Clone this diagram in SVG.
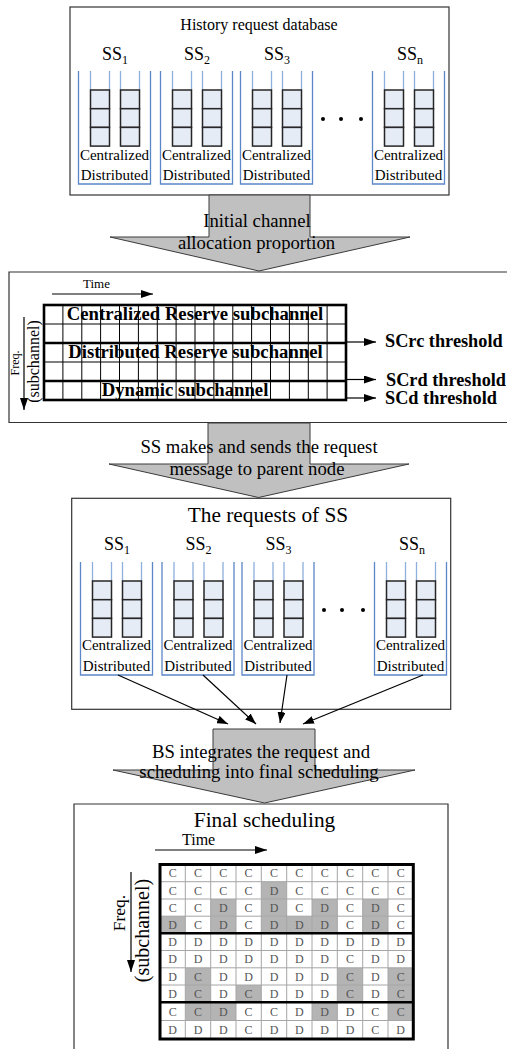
<svg xmlns="http://www.w3.org/2000/svg" xmlns:xlink="http://www.w3.org/1999/xlink" width="507" height="1049" viewBox="0 0 507 1049">
  <style>
    text { font-family: "Liberation Serif", "Times New Roman", serif; fill: #000; }
    .box { fill: #fff; stroke: #333; stroke-width: 1.2; }
    .cont { fill: none; stroke: #5b87c8; stroke-width: 1.3; }
    .tube { fill: none; stroke: #8eaedd; stroke-width: 1.3; }
    .slot { fill: #e6ecf6; stroke: #262626; stroke-width: 1.5; }
    .lbl { font-size: 15px; }
    .ss { font-size: 18px; }
    .sub { font-size: 12px; }
    .blk { fill: #c0c0c0; stroke: #3a3a3a; stroke-width: 1; }
    .big { font-size: 18.7px; }
    .title { font-size: 21.3px; }
    .bold { font-weight: bold; font-size: 18.7px; }
    .thr { font-weight: bold; font-size: 18.3px; }
    .thin { fill: none; stroke: #000; stroke-width: 1; }
    .thick { fill: none; stroke: #000; stroke-width: 2.6; }
    .gthin { fill: none; stroke: #a6a6a6; stroke-width: 1; }
    .gcell { fill: #b4b4b4; }
    .cell { font-size: 12px; fill: #555; }
    .arr { fill: none; stroke: #000; stroke-width: 1.2; }
  </style>
  <defs>
    <marker id="head" viewBox="0 0 12 8" refX="12" refY="4" markerWidth="12" markerHeight="8" markerUnits="userSpaceOnUse" orient="auto">
      <path d="M0,0 L12,4 L0,8 z" fill="#000"/>
    </marker>
    <marker id="headS" viewBox="0 0 11 8" refX="11" refY="4" markerWidth="11" markerHeight="8" markerUnits="userSpaceOnUse" orient="auto">
      <path d="M0,0 L11,4 L0,8 z" fill="#000"/>
    </marker>
    <!-- one subscriber queue: open container with two tubes of three slots -->
    <g id="queue">
      <path class="cont" d="M0.5,0 V113 H72.5 V0"/>
      <path class="tube" d="M12.5,0 V19 M31.5,0 V19 M42.5,0 V19 M61.5,0 V19"/>
      <rect class="slot" x="12.5" y="19" width="19" height="18.7"/>
      <rect class="slot" x="12.5" y="37.7" width="19" height="18.7"/>
      <rect class="slot" x="12.5" y="56.4" width="19" height="18.7"/>
      <rect class="slot" x="42.5" y="19" width="19" height="18.7"/>
      <rect class="slot" x="42.5" y="37.7" width="19" height="18.7"/>
      <rect class="slot" x="42.5" y="56.4" width="19" height="18.7"/>
    </g>
  </defs>

  <!-- History request database -->
  <g id="history-db">
    <rect class="box" x="70" y="7" width="379" height="188"/>
    <text x="259" y="30" font-size="16" text-anchor="middle">History request database</text>
    <g id="hist-ss1">
      <text class="ss" x="115" y="60" text-anchor="middle">SS<tspan class="sub" dy="4">1</tspan></text>
      <use xlink:href="#queue" x="78" y="71"/>
      <text class="lbl" x="114.5" y="160" text-anchor="middle">Centralized</text>
      <text class="lbl" x="114.5" y="180" text-anchor="middle">Distributed</text>
    </g>
    <g id="hist-ss2">
      <text class="ss" x="197" y="60" text-anchor="middle">SS<tspan class="sub" dy="4">2</tspan></text>
      <use xlink:href="#queue" x="160" y="71"/>
      <text class="lbl" x="196.5" y="160" text-anchor="middle">Centralized</text>
      <text class="lbl" x="196.5" y="180" text-anchor="middle">Distributed</text>
    </g>
    <g id="hist-ss3">
      <text class="ss" x="277" y="60" text-anchor="middle">SS<tspan class="sub" dy="4">3</tspan></text>
      <use xlink:href="#queue" x="240" y="71"/>
      <text class="lbl" x="276.5" y="160" text-anchor="middle">Centralized</text>
      <text class="lbl" x="276.5" y="180" text-anchor="middle">Distributed</text>
    </g>
    <g id="hist-dots">
      <circle cx="323" cy="119" r="2"/>
      <circle cx="341" cy="119" r="2"/>
      <circle cx="361" cy="119" r="2"/>
    </g>
    <g id="hist-ssn">
      <text class="ss" x="410" y="60" text-anchor="middle">SS<tspan class="sub" dy="4">n</tspan></text>
      <use xlink:href="#queue" x="372" y="71"/>
      <text class="lbl" x="408.5" y="160" text-anchor="middle">Centralized</text>
      <text class="lbl" x="408.5" y="180" text-anchor="middle">Distributed</text>
    </g>
  </g>

  <!-- Step arrow: initial allocation -->
  <g id="arrow-initial">
    <polygon class="blk" points="209,195 310,195 310,237 410,237 259,271 110,237 209,237"/>
    <text class="big" x="257" y="227" text-anchor="middle">Initial channel</text>
    <text class="big" x="256.5" y="249" text-anchor="middle">allocation proportion</text>
  </g>

  <!-- Channel plan with reserve thresholds -->
  <g id="channel-plan">
    <path class="box" d="M509,272 H9 V422.5 H509"/>
    <text x="83" y="288" font-size="13">Time</text>
    <line class="arr" x1="52" y1="294" x2="153" y2="294" marker-end="url(#head)"/>
    <line class="arr" x1="24" y1="317" x2="24" y2="410" marker-end="url(#head)"/>
    <text font-size="12" text-anchor="middle" transform="translate(19,363) rotate(-90)">Freq.</text>
    <text font-size="16" text-anchor="middle" transform="translate(39,361.5) rotate(-90)">(subchannel)</text>
    <path class="thin" d="M62.9,305 V400 M81.8,305 V400 M100.6,305 V400 M119.5,305 V400 M138.4,305 V400 M157.3,305 V400 M176.1,305 V400 M195,305 V400 M213.9,305 V400 M232.8,305 V400 M251.6,305 V400 M270.5,305 V400 M289.4,305 V400 M308.3,305 V400 M327.1,305 V400 M44,324 H346 M44,362 H346"/>
    <path class="thick" d="M44,343 H346 M44,381 H346"/>
    <rect class="thick" x="44" y="305" width="302" height="95"/>
    <text class="bold" x="195" y="319.5" text-anchor="middle">Centralized Reserve subchannel</text>
    <text class="bold" x="195.5" y="357.5" text-anchor="middle">Distributed Reserve subchannel</text>
    <text class="bold" x="185" y="395.5" text-anchor="middle">Dynamic subchannel</text>
    <line class="arr" x1="347" y1="342" x2="376" y2="342" marker-end="url(#head)"/>
    <line class="arr" x1="347" y1="379.5" x2="376" y2="379.5" marker-end="url(#head)"/>
    <line class="arr" x1="347" y1="398" x2="376" y2="398" marker-end="url(#head)"/>
    <text class="thr" x="385" y="347">SCrc threshold</text>
    <text class="thr" x="386" y="385.5">SCrd threshold</text>
    <text class="thr" x="385" y="403.5">SCd threshold</text>
  </g>

  <!-- Step arrow: request message -->
  <g id="arrow-request">
    <polygon class="blk" points="208,423 310,423 310,464 409,464 258.5,497.5 109,464 208,464"/>
    <text class="big" x="259" y="453" text-anchor="middle">SS makes and sends the request</text>
    <text class="big" x="257" y="475" text-anchor="middle">message to parent node</text>
  </g>

  <!-- The requests of SS -->
  <g id="requests">
    <rect class="box" x="71.7" y="498.3" width="379" height="211"/>
    <text class="title" x="268" y="522" text-anchor="middle">The requests of SS</text>
    <g id="req-ss1">
      <text class="ss" x="117" y="550" text-anchor="middle">SS<tspan class="sub" dy="4">1</tspan></text>
      <use xlink:href="#queue" x="80" y="562"/>
      <text class="lbl" x="116.5" y="650" text-anchor="middle">Centralized</text>
      <text class="lbl" x="116.5" y="671" text-anchor="middle">Distributed</text>
    </g>
    <g id="req-ss2">
      <text class="ss" x="198.5" y="550" text-anchor="middle">SS<tspan class="sub" dy="4">2</tspan></text>
      <use xlink:href="#queue" x="161.5" y="562"/>
      <text class="lbl" x="198" y="650" text-anchor="middle">Centralized</text>
      <text class="lbl" x="198" y="671" text-anchor="middle">Distributed</text>
    </g>
    <g id="req-ss3">
      <text class="ss" x="278.5" y="550" text-anchor="middle">SS<tspan class="sub" dy="4">3</tspan></text>
      <use xlink:href="#queue" x="241.5" y="562"/>
      <text class="lbl" x="278" y="650" text-anchor="middle">Centralized</text>
      <text class="lbl" x="278" y="671" text-anchor="middle">Distributed</text>
    </g>
    <g id="req-dots">
      <circle cx="324" cy="610" r="2"/>
      <circle cx="342" cy="610" r="2"/>
      <circle cx="363" cy="610" r="2"/>
    </g>
    <g id="req-ssn">
      <text class="ss" x="412" y="550" text-anchor="middle">SS<tspan class="sub" dy="4">n</tspan></text>
      <use xlink:href="#queue" x="374" y="562"/>
      <text class="lbl" x="410.5" y="650" text-anchor="middle">Centralized</text>
      <text class="lbl" x="410.5" y="671" text-anchor="middle">Distributed</text>
    </g>
  </g>

  <!-- Step arrow: BS integration -->
  <g id="arrow-bs">
    <polygon class="blk" points="213,729 315,729 315,770 415,770 264.5,803 113,770 213,770"/>
    <text class="big" x="261" y="758" text-anchor="middle">BS integrates the request and</text>
    <text class="big" x="259" y="778" text-anchor="middle">scheduling into final scheduling</text>
  </g>

  <!-- Requests forwarded to the BS -->
  <g id="connectors">
    <line class="arr" x1="118" y1="675" x2="228" y2="724" marker-end="url(#headS)"/>
    <line class="arr" x1="203" y1="675" x2="256" y2="724" marker-end="url(#headS)"/>
    <line class="arr" x1="287" y1="675" x2="280" y2="723" marker-end="url(#headS)"/>
    <line class="arr" x1="423" y1="675" x2="303" y2="724" marker-end="url(#headS)"/>
  </g>

  <!-- Final scheduling -->
  <g id="final-schedule">
    <path class="box" d="M74,1052 V804 H448 V1052"/>
    <text class="title" x="264.5" y="827" text-anchor="middle">Final scheduling</text>
    <text x="182" y="845" font-size="16">Time</text>
    <line class="arr" x1="155" y1="850" x2="267" y2="850" stroke="#333" marker-end="url(#head)"/>
    <line class="arr" x1="131" y1="872" x2="131" y2="972" stroke="#333" marker-end="url(#head)"/>
    <text font-size="17.5" text-anchor="middle" transform="translate(124.5,913) rotate(-90)">Freq.</text>
    <text font-size="20" text-anchor="middle" transform="translate(148.5,930.5) rotate(-90)">(subchannel)</text>

    <!-- dynamically assigned slots -->
    <g id="shaded">
      <rect class="gcell" x="261.3" y="881.7" width="25.4" height="17.3"/>
      <rect class="gcell" x="210.7" y="899" width="25.3" height="17.2"/>
      <rect class="gcell" x="261.3" y="899" width="25.4" height="17.2"/>
      <rect class="gcell" x="312" y="899" width="25.3" height="17.2"/>
      <rect class="gcell" x="362.7" y="899" width="25.3" height="17.2"/>
      <rect class="gcell" x="160" y="916.2" width="25.3" height="17.1"/>
      <rect class="gcell" x="210.7" y="916.2" width="25.3" height="17.1"/>
      <rect class="gcell" x="261.3" y="916.2" width="50.7" height="17.1"/>
      <rect class="gcell" x="312" y="916.2" width="25.3" height="17.1"/>
      <rect class="gcell" x="362.7" y="916.2" width="25.3" height="17.1"/>
      <rect class="gcell" x="185.3" y="967.8" width="25.4" height="34.5"/>
      <rect class="gcell" x="337.3" y="967.8" width="25.4" height="34.5"/>
      <rect class="gcell" x="388" y="967.8" width="25.3" height="34.5"/>
      <rect class="gcell" x="236" y="985" width="25.3" height="17.3"/>
      <rect class="gcell" x="185.3" y="1002.3" width="50.7" height="18.2"/>
      <rect class="gcell" x="312" y="1002.3" width="25.3" height="18.2"/>
      <rect class="gcell" x="388" y="1002.3" width="25.3" height="18.2"/>
    </g>
    <path class="gthin" d="M185.3,864.5 V1039 M210.7,864.5 V1039 M236,864.5 V1039 M261.3,864.5 V1039 M286.7,864.5 V1039 M312,864.5 V1039 M337.3,864.5 V1039 M362.7,864.5 V1039 M388,864.5 V1039 M160,881.7 H413.3 M160,899 H413.3 M160,916.2 H413.3 M160,950.5 H413.3 M160,967.8 H413.3 M160,985 H413.3 M160,1020.5 H413.3"/>
    <path class="thick" d="M160,933.3 H413.3 M160,1002.3 H413.3"/>
    <rect x="160" y="864.5" width="253.3" height="174.5" fill="none" stroke="#000" stroke-width="3"/>
    <g class="cell" text-anchor="middle">
      <text class="cell" x="172.7 198 223.3 248.6 274 299.3 324.7 350 375.3 400.7" y="877.3">CCCCCCCCCC</text>
      <text class="cell" x="172.7 198 223.3 248.6 274 299.3 324.7 350 375.3 400.7" y="894.5">CCCCDCCCCC</text>
      <text class="cell" x="172.7 198 223.3 248.6 274 299.3 324.7 350 375.3 400.7" y="911.8">CCDCDCDCDC</text>
      <text class="cell" x="172.7 198 223.3 248.6 274 299.3 324.7 350 375.3 400.7" y="929">DCDCDDDCDC</text>
      <text class="cell" x="172.7 198 223.3 248.6 274 299.3 324.7 350 375.3 400.7" y="946.1">DDDDDDDDDD</text>
      <text class="cell" x="172.7 198 223.3 248.6 274 299.3 324.7 350 375.3 400.7" y="963.4">DDDDDDDCDD</text>
      <text class="cell" x="172.7 198 223.3 248.6 274 299.3 324.7 350 375.3 400.7" y="980.6">DCDDDDDCDC</text>
      <text class="cell" x="172.7 198 223.3 248.6 274 299.3 324.7 350 375.3 400.7" y="997.9">DCDCDDDCDC</text>
      <text class="cell" x="172.7 198 223.3 248.6 274 299.3 324.7 350 375.3 400.7" y="1015.6">CCDCCDDDCC</text>
      <text class="cell" x="172.7 198 223.3 248.6 274 299.3 324.7 350 375.3 400.7" y="1034">DDDCDDDDCD</text>
    </g>
  </g>
</svg>
